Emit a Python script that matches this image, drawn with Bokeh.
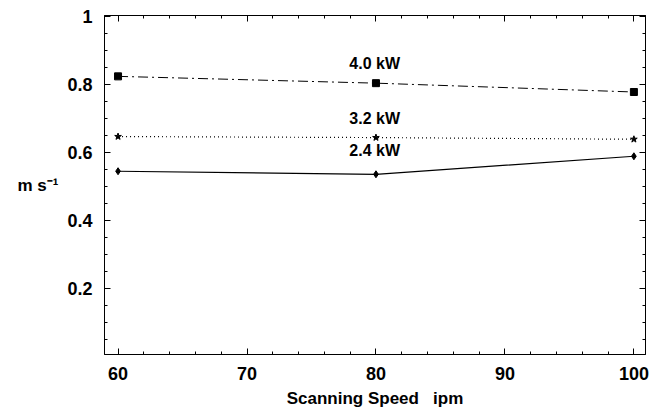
from bokeh.plotting import figure
from bokeh.models import (FixedTicker, LinearAxis, Range1d,
                          CustomJSTickFormatter, ColumnDataSource)
from bokeh.embed import file_html
from bokeh.resources import INLINE
from bokeh.core.properties import value

# Scanning speed (ipm) and measured values (m s^-1) for three laser powers
speed = [60, 80, 100]
p40 = [0.825, 0.805, 0.779]
p32 = [0.648, 0.645, 0.640]
p24 = [0.546, 0.537, 0.590]
series_labels = ["4.0 kW", "3.2 kW", "2.4 kW"]
label_x = 79.9
label_y = [0.862, 0.701, 0.607]

x_major = [60, 70, 80, 90, 100]
x_minor = [v for v in range(60, 101, 2) if v % 10]
y_major = [0.2, 0.4, 0.6, 0.8, 1.0]
y_minor = [round(0.05 * i, 2) for i in range(1, 20) if i % 4]

FONT = "Liberation Sans"
NB = "\u00a0"

p = figure(width=650, height=410, output_backend="svg", toolbar_location=None,
           x_range=Range1d(58.95, 100.9), y_range=Range1d(0.007, 1.004),
           x_axis_location=None, y_axis_location=None,
           min_border_left=104, min_border_right=5, min_border_top=15,
           min_border_bottom=56)
p.grid.visible = False
p.outline_line_color = "black"
p.outline_line_width = 1
p.background_fill_color = "white"
p.border_fill_color = "white"

xt = FixedTicker(ticks=x_major, minor_ticks=x_minor)
yt = FixedTicker(ticks=y_major, minor_ticks=y_minor)


def style(ax, labels=True):
    ax.major_tick_in = 6
    ax.major_tick_out = 0
    ax.minor_tick_in = 3
    ax.minor_tick_out = 0
    ax.axis_line_color = "black"
    ax.major_tick_line_color = "black"
    ax.minor_tick_line_color = "black"
    if labels:
        ax.major_label_text_font = FONT
        ax.major_label_text_font_style = "bold"
        ax.major_label_text_font_size = "18px"
        ax.major_label_text_color = "black"
        ax.axis_label_text_font = FONT
        ax.axis_label_text_font_style = "bold"
        ax.axis_label_text_font_size = "17px"
        ax.axis_label_text_color = "black"
    else:
        ax.major_label_text_font_size = "0px"
        ax.major_label_standoff = 0


xb = LinearAxis(ticker=xt, axis_label="Scanning Speed" + NB * 3 + "ipm")
style(xb)
xb.major_label_standoff = 12
xb.axis_label_standoff = 6
p.add_layout(xb, "below")

# Unit of the vertical axis, written horizontally
yl = LinearAxis(ticker=yt, axis_label="m s\u207b\u00b9")
style(yl)
yl.major_label_standoff = 12
yl.axis_label_orientation = "horizontal"
yl.axis_label_standoff = 6
yl.formatter = CustomJSTickFormatter(
    code="return tick > 0.999 ? '1' : tick.toFixed(1);")
p.add_layout(yl, "left")

xa = LinearAxis(ticker=xt)
style(xa, labels=False)
p.add_layout(xa, "above")

yr = LinearAxis(ticker=yt)
style(yr, labels=False)
p.add_layout(yr, "right")

# The three power series
p.line(speed, p40, line_color="black", line_width=1, line_dash="10 4 2 4")
p.scatter(speed, p40, marker="square", size=7, color="black")

p.line(speed, p32, line_color="black", line_width=1.2, line_dash="1 3")
p.scatter(speed, p32, marker="star", size=7, color="black")

p.line(speed, p24, line_color="black", line_width=1.2)
p.scatter(speed, p24, marker="diamond", size=7, color="black")

src = ColumnDataSource(dict(x=[label_x] * 3, y=label_y, t=series_labels))
p.text(x="x", y="y", text="t", source=src, text_font=value(FONT),
       text_font_style="bold", text_font_size="16px", text_color="black",
       text_align="center", text_baseline="middle")

open("out.html", "w").write(file_html(p, INLINE))
